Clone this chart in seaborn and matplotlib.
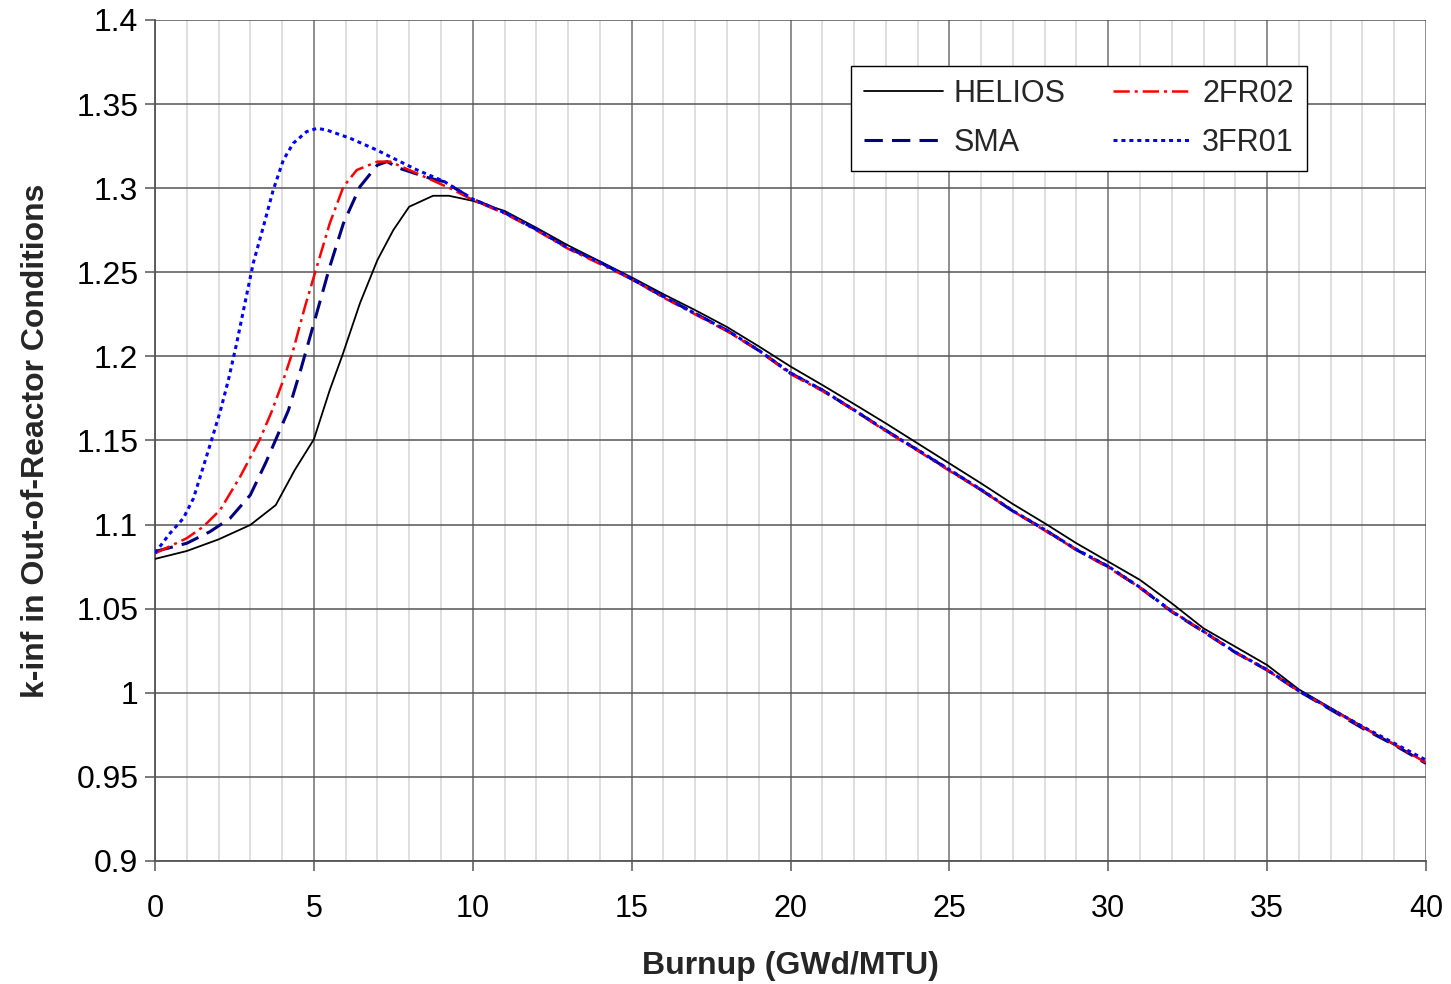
import numpy as np
import pandas as pd
import matplotlib
matplotlib.use("Agg")
import matplotlib.pyplot as plt
import seaborn as sns
from matplotlib.ticker import MultipleLocator

# ---------------- data ----------------
helios_x = [0, 1, 2, 3, 3.8, 4.4, 5.0, 5.5, 5.9, 6.45, 7.0, 7.5, 8.0, 8.75, 9.25, 10, 11, 12, 13, 14, 15, 16, 17, 18, 19, 20,
            21, 22, 23, 24, 25, 26, 27, 28, 29, 30, 31, 32, 33, 34, 35, 36, 37, 38, 39, 40]
helios_y = [1.0796, 1.0843, 1.0912, 1.0998, 1.1116, 1.1325, 1.1507, 1.180, 1.2008, 1.2316, 1.2573, 1.2751, 1.289, 1.2955, 1.2955,
            1.2925, 1.2865, 1.2765, 1.2660, 1.2565, 1.2470, 1.2370, 1.2275, 1.2175, 1.2060, 1.1940,
            1.1830, 1.1717, 1.1602, 1.1483, 1.1364, 1.1245, 1.1122, 1.1008, 1.0889, 1.0780, 1.0671, 1.0532, 1.0383, 1.0274, 1.0165,
            1.0020, 0.9910, 0.9800, 0.9690, 0.9585]

sma_x = [0, 1, 1.73, 2.36, 3.0, 3.5, 3.93, 4.2, 4.6, 5.0, 5.5, 5.93, 6.45, 7.0, 7.3, 7.7, 8.65, 9.1, 10, 11, 12, 13, 14, 15, 16, 17, 18, 19, 20,
         21, 22, 23, 24, 25, 26, 27, 28, 29, 30, 31, 32, 33, 34, 35, 36, 37, 38, 39, 40]
sma_y = [1.0840, 1.0889, 1.0958, 1.1037, 1.1176, 1.1374, 1.1562, 1.1680, 1.1930, 1.2197, 1.2533, 1.2791, 1.3009, 1.3138, 1.3158, 1.3118, 1.3059, 1.3039,
         1.2935, 1.2855, 1.2755, 1.2645, 1.2560, 1.2460, 1.2355, 1.2255, 1.2155, 1.2035, 1.1900,
         1.1800, 1.1680, 1.1560, 1.1443, 1.1325, 1.1206, 1.1080, 1.0970, 1.0850, 1.0750, 1.0625, 1.0482, 1.0363, 1.0240, 1.0135,
         1.0010, 0.9900, 0.9790, 0.9690, 0.9580]

fr2_x = [0, 1, 1.52, 2.05, 2.68, 3.3, 3.67, 4.04, 4.35, 4.72, 5.0, 5.5, 5.93, 6.35, 7.0, 7.4, 8.23, 9.28, 10, 11, 12, 13, 14, 15, 16, 17, 18, 19, 20,
         21, 22, 23, 24, 25, 26, 27, 28, 29, 30, 31, 32, 33, 34, 35, 36, 37, 38, 39, 40]
fr2_y = [1.0829, 1.0919, 1.0988, 1.1087, 1.1285, 1.1507, 1.1671, 1.1860, 1.2038, 1.2296, 1.2474, 1.2791, 1.3009, 1.3108, 1.3158, 1.3158, 1.3089, 1.3000,
         1.2930, 1.2850, 1.2750, 1.2640, 1.2550, 1.2460, 1.2350, 1.2250, 1.2150, 1.2035, 1.1895,
         1.1795, 1.1680, 1.1555, 1.1440, 1.1320, 1.1205, 1.1080, 1.0965, 1.0850, 1.0745, 1.0625, 1.0485, 1.0365, 1.0240, 1.0135,
         1.0010, 0.9905, 0.9795, 0.9695, 0.9585]

fr3_x = [0, 0.47, 0.89, 1.21, 1.52, 1.78, 2.05, 2.31, 2.57, 2.83, 3.09, 3.41, 3.72, 4.04, 4.35, 4.77, 5.1, 5.4, 6.14, 6.98, 7.5, 8.23, 9.1, 10, 11, 12, 13, 14, 15, 16, 17, 18, 19, 20,
         21, 22, 23, 24, 25, 26, 27, 28, 29, 30, 31, 32, 33, 34, 35, 36, 37, 38, 39, 40]
fr3_y = [1.0831, 1.0948, 1.1037, 1.1156, 1.1344, 1.1503, 1.1671, 1.1860, 1.2078, 1.2316, 1.2553, 1.2771, 1.2989, 1.3168, 1.3267, 1.3336, 1.3356, 1.3346, 1.3297, 1.3227, 1.3178, 1.3110, 1.3040,
         1.2935, 1.2855, 1.2755, 1.2645, 1.2560, 1.2462, 1.2357, 1.2255, 1.2155, 1.2037, 1.1902,
         1.1800, 1.1682, 1.1560, 1.1445, 1.1327, 1.1208, 1.1082, 1.0970, 1.0852, 1.0752, 1.0627, 1.0485, 1.0365, 1.0242, 1.0137,
         1.0012, 0.9905, 0.9800, 0.9700, 0.9600]

series_names = ["HELIOS", "SMA", "2FR02", "3FR01"]

frames = []
for name, xs, ys in zip(series_names, [helios_x, sma_x, fr2_x, fr3_x], [helios_y, sma_y, fr2_y, fr3_y]):
    frames.append(pd.DataFrame({"x": xs, "y": ys, "series": name}))
df = pd.concat(frames, ignore_index=True)

# ---------------- style ----------------
sns.set_theme(style="white")
plt.rcParams["font.family"] = ["Liberation Sans", "DejaVu Sans"]

fig = plt.figure(figsize=(14.51, 9.84), dpi=100)
ax = fig.add_axes([155 / 1451, 1 - 861 / 984, (1426 - 155) / 1451, (861 - 20) / 984])

colors = {"HELIOS": "black", "SMA": "#000080", "2FR02": "#FF0000", "3FR01": "#0000FF"}
widths = {"HELIOS": 1.3, "SMA": 2.2, "2FR02": 1.8, "3FR01": 2.2}
styles = {"HELIOS": "-", "SMA": (0, (6, 3)), "2FR02": (0, (6.5, 2, 1.2, 2)), "3FR01": (0, (1.3, 1.3))}

for name in series_names:
    sub = df[df["series"] == name]
    sns.lineplot(data=sub, x="x", y="y", ax=ax, color=colors[name], lw=widths[name],
                 linestyle=styles[name], label=name, sort=False, estimator=None, zorder=3)

ax.set_xlim(0, 40)
ax.set_ylim(0.9, 1.4)
ax.xaxis.set_major_locator(MultipleLocator(5))
ax.xaxis.set_minor_locator(MultipleLocator(1))

ax.grid(which="minor", axis="x", color="#d6d6d6", lw=1.1, zorder=0)
ax.grid(which="major", axis="x", color="#707070", lw=1.1, zorder=1)
ax.grid(which="major", axis="y", color="#555555", lw=1.1, zorder=1)
ax.set_axisbelow(True)

for side in ["top", "right"]:
    ax.spines[side].set_visible(False)
for side in ["left", "bottom"]:
    ax.spines[side].set_color("#555555")
    ax.spines[side].set_linewidth(1.3)

ax.tick_params(axis="both", which="major", direction="out", length=7, width=1.1, color="#555555",
               labelsize=22, pad=5, labelcolor="black", left=True, bottom=True)
ax.tick_params(axis="y", which="major", labelsize=23)
ax.tick_params(axis="x", which="minor", length=0)
ax.tick_params(axis="x", which="major", pad=17)

ytick_vals = [0.9, 0.95, 1.0, 1.05, 1.1, 1.15, 1.2, 1.25, 1.3, 1.35, 1.4]
ytick_labels = ["0.9", "0.95", "1", "1.05", "1.1", "1.15", "1.2", "1.25", "1.3", "1.35", "1.4"]
ax.set_yticks(ytick_vals)
ax.set_yticklabels(ytick_labels)

ax.set_xlabel("Burnup (GWd/MTU)", fontsize=23, fontweight="bold", labelpad=19)
ax.set_ylabel("k-inf in Out-of-Reactor Conditions", fontsize=23, fontweight="bold", labelpad=18)

handles, labels = ax.get_legend_handles_labels()
leg = ax.legend(handles, labels, ncol=2,
                loc="upper left", bbox_to_anchor=((851 - 155) / 1271, 1 - (66 - 20) / 841),
                fontsize=22, frameon=True, fancybox=False, shadow=False, framealpha=1,
                edgecolor="black", handlelength=2.6, handletextpad=0.33, columnspacing=1.55,
                borderpad=0.42, labelspacing=0.62, borderaxespad=0)
leg.get_frame().set_linewidth(1.0)

fig.savefig("out.png", dpi=100)
